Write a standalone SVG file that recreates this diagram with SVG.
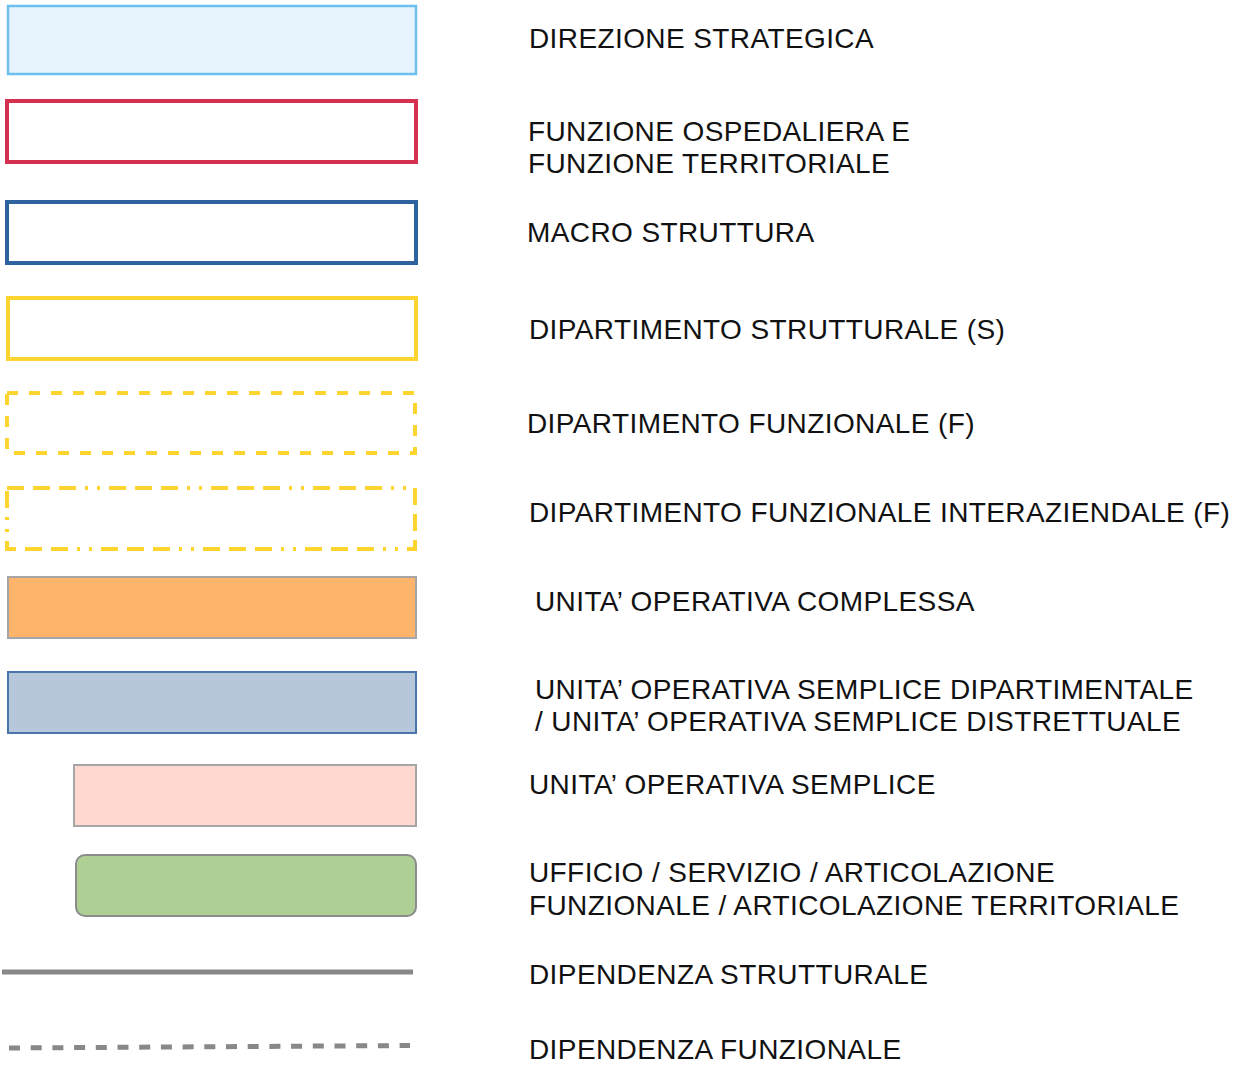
<svg xmlns="http://www.w3.org/2000/svg" width="1248" height="1065" viewBox="0 0 1248 1065">
<style>
text{font-family:"Liberation Sans",Arial,sans-serif;font-size:28px;letter-spacing:0.4px;fill:#111}
.y{fill:none;stroke:#fed52e;stroke-width:4}
.g{stroke:#a6a6a6;stroke-width:2}
</style>
<rect width="1248" height="1065" fill="#fff"/>
<g id="n-direzione"><rect x="8" y="6" width="408" height="68" fill="#e8f4fd" stroke="#6cc0ef" stroke-width="2.5"/><text x="529" y="48">DIREZIONE STRATEGICA</text></g>
<g id="n-funzione"><rect x="7" y="101" width="409" height="61" fill="#fff" stroke="#d5304f" stroke-width="4"/><text x="528" y="141">FUNZIONE OSPEDALIERA E</text><text x="528" y="173">FUNZIONE TERRITORIALE</text></g>
<g id="n-macro"><rect x="7" y="202" width="409" height="61" fill="#fff" stroke="#2e63a0" stroke-width="4"/><text x="527" y="242">MACRO STRUTTURA</text></g>
<g id="n-dip-s"><rect x="8" y="298" width="408" height="61" class="y"/><text x="529" y="339">DIPARTIMENTO STRUTTURALE (S)</text></g>
<g id="n-dip-f"><rect x="7" y="393" width="408" height="60" class="y" stroke-dasharray="11 11"/><text x="527" y="433">DIPARTIMENTO FUNZIONALE (F)</text></g>
<g id="n-dip-fi"><rect x="7" y="488" width="408" height="61" class="y" stroke-dasharray="17 9 17 9 17 9 3 9 3 9"/><text x="529" y="522">DIPARTIMENTO FUNZIONALE INTERAZIENDALE (F)</text></g>
<g id="n-uoc"><rect x="8" y="577" width="408" height="61" fill="#ffb46b" class="g"/><text x="535" y="611">UNITA’ OPERATIVA COMPLESSA</text></g>
<g id="n-uosd"><rect x="8" y="672" width="408" height="61" fill="#b6c7dc" stroke="#4a74aa" stroke-width="2"/><text x="535" y="699">UNITA’ OPERATIVA SEMPLICE DIPARTIMENTALE</text><text x="535" y="731">/ UNITA’ OPERATIVA SEMPLICE DISTRETTUALE</text></g>
<g id="n-uos"><rect x="74" y="765" width="342" height="61" fill="#ffd8cf" class="g"/><text x="529" y="794">UNITA’ OPERATIVA SEMPLICE</text></g>
<g id="n-ufficio"><rect x="76" y="855" width="340" height="61" rx="9" fill="#aed095" stroke="#8c8c8c" stroke-width="2"/><text x="529" y="882">UFFICIO / SERVIZIO / ARTICOLAZIONE</text><text x="529" y="915">FUNZIONALE / ARTICOLAZIONE TERRITORIALE</text></g>
<g id="connectors">
<line x1="2" y1="972" x2="413" y2="972" stroke="#888" stroke-width="5"/>
<line x1="9" y1="1048" x2="410" y2="1045.5" stroke="#888" stroke-width="5" stroke-dasharray="11 10.7"/>
</g>
<g id="labels-lines"><text x="529" y="984">DIPENDENZA STRUTTURALE</text><text x="529" y="1059">DIPENDENZA FUNZIONALE</text></g>
</svg>
